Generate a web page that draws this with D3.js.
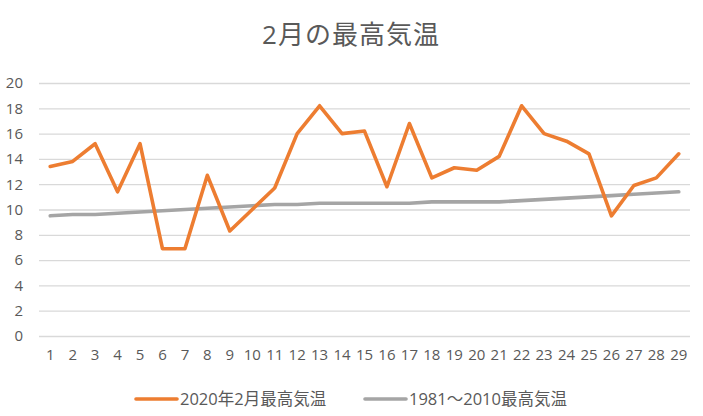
<!DOCTYPE html>
<html><head><meta charset="utf-8">
<script src="https://cdn.jsdelivr.net/npm/d3@7"></script>
<style>body{margin:0;background:#fff}</style>
</head><body>
<svg id="c" width="703" height="416"></svg>
<script>
const days = d3.range(1, 30).map(String);
const temp2020 = [13.4,13.8,15.2,11.4,15.2,6.9,6.9,12.7,8.3,10.0,11.7,16.0,18.2,16.0,16.2,11.8,16.8,12.5,13.3,13.1,14.2,18.2,16.0,15.4,14.4,9.5,11.9,12.5,14.4];
const tempNormal = [9.5,9.6,9.6,9.7,9.8,9.9,10.0,10.1,10.2,10.3,10.4,10.4,10.5,10.5,10.5,10.5,10.5,10.6,10.6,10.6,10.6,10.7,10.8,10.9,11.0,11.1,11.2,11.3,11.4];
const yTicks = [0,2,4,6,8,10,12,14,16,18,20];
const seriesNames = ["2020年2月最高気温","1981〜2010最高気温"];
const colors = ["#ED7D31","#A5A5A5"];
const title = "2月の最高気温";

const svg = d3.select("#c");
const font = "'Open Sans', 'Noto Sans CJK JP', sans-serif";
const x = d3.scaleBand().domain(days).range([39, 690]);
const y = d3.scaleLinear().domain([0, 20]).range([336, 83]);

svg.append("text").attr("x", 351).attr("y", 44).attr("text-anchor", "middle")
  .attr("font-family", font).attr("font-size", 26).attr("letter-spacing", 1).attr("fill", "#595959").text(title);

const yAxis = d3.axisLeft(y).tickValues(yTicks).tickSize(-(690-39)).tickPadding(16);
const gy = svg.append("g").attr("transform", "translate(39,0)").call(yAxis);
gy.select(".domain").remove();
gy.selectAll(".tick line").attr("stroke", "#D9D9D9").attr("stroke-width", 1.3);
gy.selectAll(".tick text").attr("font-family", font).attr("font-size", 15).attr("fill", "#595959");

const xAxis = d3.axisBottom(x).tickSize(0).tickPadding(13);
const gx = svg.append("g").attr("transform", "translate(0,336)").call(xAxis);
gx.select(".domain").remove();
gx.selectAll(".tick text").attr("font-family", font).attr("font-size", 15).attr("fill", "#595959");

const line = d3.line().x((d, i) => x(days[i]) + x.bandwidth()/2).y(d => y(d));
[tempNormal, temp2020].forEach((s, k) => {
  const c = k === 0 ? colors[1] : colors[0];
  svg.append("path").datum(s).attr("d", line).attr("fill", "none")
    .attr("stroke", c).attr("stroke-width", 3.6).attr("stroke-linejoin", "round").attr("stroke-linecap", "round");
});

const legX = [136, 365];
seriesNames.forEach((n, i) => {
  const g = svg.append("g").attr("transform", `translate(${legX[i]},399)`);
  g.append("line").attr("x1", 0).attr("x2", 41).attr("stroke", colors[i]).attr("stroke-width", 3.6).attr("stroke-linecap", "round");
  g.append("text").attr("x", 44).attr("y", 6).attr("font-family", font).attr("font-size", 16.5).attr("fill", "#595959").text(n);
});
</script>
</body></html>
